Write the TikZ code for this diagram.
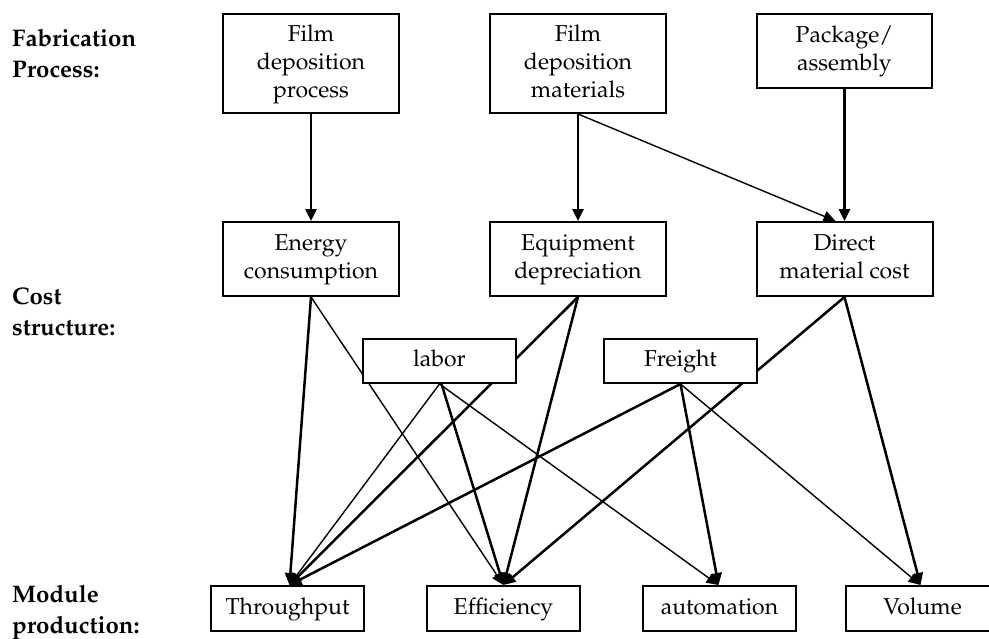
\documentclass[tikz,border=0pt]{standalone}
\usepackage[T1]{fontenc}
\usepackage{mathpazo}
\usetikzlibrary{arrows.meta}
\pgfdeclarelayer{bg}
\pgfsetlayers{bg,main}
\begin{document}
\begin{tikzpicture}[x=1pt,y=-1pt,
  box/.style={draw, line width=2pt, fill=white, align=center, inner sep=0pt,
    font=\fontsize{23}{28}\selectfont},
  toprow/.style={box, minimum width=176pt, minimum height=99pt},
  midrow/.style={box, minimum width=176pt, minimum height=74pt},
  smallbox/.style={box, minimum width=153pt, minimum height=44pt},
  lvl/.style={anchor=base west, align=left, inner sep=0pt,
    font=\fontsize{24}{31}\selectfont\bfseries},
  thk/.style={line width=2.5pt, -{Triangle[length=12pt,width=11pt]}},
  thn/.style={line width=1.4pt, -{Triangle[length=12pt,width=11pt]}}]
\useasboundingbox (0,0) rectangle (989,638);
% level labels (anchored at the baseline of the last line)
\node[lvl] (lab1) at (12,77) {Fabrication\\Process:};
\node[lvl] (lab2) at (12,335) {Cost\\structure:};
\node[lvl] (lab3) at (12,633) {Module\\production:};
% top row
\node[toprow] (fdp) at (311,63.5) {\strut Film\\\strut deposition\\\strut process};
\node[toprow] (fdm) at (578,63.5) {\strut Film\\\strut deposition\\\strut materials};
\node[box, minimum width=175pt, minimum height=74pt] (pkg) at (844.5,51) {\strut Package/\\\strut assembly};
% middle row
\node[midrow] (energy) at (311,259) {\strut Energy\\\strut consumption};
\node[midrow] (equip) at (578,259) {\strut Equipment\\\strut depreciation};
\node[midrow] (direct) at (844.5,259) {\strut Direct\\\strut material cost};
% cost boxes
\node[smallbox] (labor) at (439.5,361) {\strut labor};
\node[smallbox] (freight) at (680.5,361) {\strut Freight};
% bottom row
\node[smallbox, minimum height=45pt] (thr) at (287.5,608.5) {\strut Throughput};
\node[smallbox, minimum height=45pt] (eff) at (503.5,608.5) {\strut Efficiency};
\node[smallbox, minimum height=45pt] (aut) at (719.5,608.5) {\strut automation};
\node[smallbox, minimum height=45pt] (vol) at (922.5,608.5) {\strut Volume};
\begin{pgfonlayer}{bg}
\draw[thk] (fdp.south) -- (energy.north);
\draw[thk] (fdm.south) -- (equip.north);
\draw[thn] (fdm.south) -- ([xshift=-9pt]direct.north);
\draw[thk] (pkg.south) -- (direct.north);
\draw[thk] (energy.south) -- ([xshift=2pt]thr.north);
\draw[thn] (energy.south) -- (eff.north);
\draw[thk] (equip.south) -- ([xshift=2pt]thr.north);
\draw[thk] (equip.south) -- (eff.north);
\draw[thk] (direct.south) -- (eff.north);
\draw[thk] (direct.south) -- ([xshift=-2pt]vol.north);
\draw[thn] (labor.south) -- ([xshift=2pt]thr.north);
\draw[thk] ([xshift=2pt]labor.south) -- (eff.north);
\draw[thn] (labor.south) -- ([xshift=-1pt]aut.north);
\draw[thk] (freight.south) -- ([xshift=2pt]thr.north);
\draw[thk] (freight.south) -- ([xshift=-1pt]aut.north);
\draw[thn] (freight.south) -- ([xshift=-2pt]vol.north);
\end{pgfonlayer}
\end{tikzpicture}
\end{document}
